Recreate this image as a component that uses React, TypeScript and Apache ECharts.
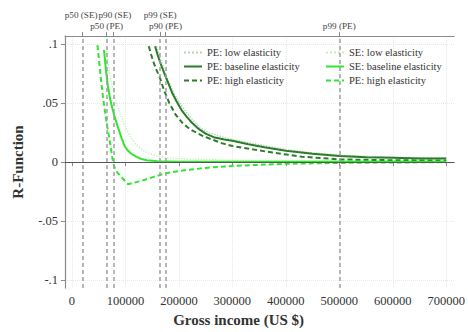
import React, { useEffect, useRef } from "react";
import * as echarts from "echarts";

// ---- data ----
const peLow: [number, number][] = [
  [158000, 0.098], [165000, 0.088], [172000, 0.079], [180000, 0.069], [190000, 0.059],
  [200000, 0.051], [212000, 0.043], [225000, 0.036], [240000, 0.029], [255000, 0.025],
  [275000, 0.022], [300000, 0.019], [340000, 0.0155], [400000, 0.0105], [450000, 0.0078],
  [500000, 0.0058], [600000, 0.004], [700000, 0.0033],
];
const peBase: [number, number][] = [
  [155500, 0.098], [160000, 0.091], [166000, 0.083], [172000, 0.076], [180000, 0.067],
  [188000, 0.058], [196000, 0.051], [205000, 0.044], [215000, 0.038], [225000, 0.033],
  [237000, 0.028], [250000, 0.024], [265000, 0.021], [285000, 0.019], [300000, 0.018],
  [330000, 0.015], [360000, 0.0125], [400000, 0.0095], [450000, 0.007], [500000, 0.005],
  [550000, 0.004], [600000, 0.0035], [650000, 0.003], [700000, 0.003],
];
const peHigh: [number, number][] = [
  [143700, 0.098], [148000, 0.091], [153000, 0.084], [158000, 0.078], [164000, 0.072],
  [172000, 0.061], [182000, 0.050], [194000, 0.040], [207000, 0.033], [220000, 0.028],
  [232000, 0.025], [245000, 0.022], [262000, 0.019], [280000, 0.016], [300000, 0.0135],
  [340000, 0.0105], [375000, 0.008], [430000, 0.0045], [500000, 0.0022], [600000, 0.0015],
  [700000, 0.0012],
];
const seLow: [number, number][] = [
  [64000, 0.097], [68000, 0.084], [72000, 0.072], [77000, 0.061], [83000, 0.050],
  [90000, 0.041], [97000, 0.033], [105000, 0.025], [113000, 0.019], [122000, 0.014],
  [132000, 0.010], [145000, 0.007], [160000, 0.005], [180000, 0.0035], [220000, 0.0025],
  [300000, 0.0015], [500000, 0.001], [700000, 0.001],
];
const seBase: [number, number][] = [
  [60000, 0.095], [63000, 0.080], [67000, 0.065], [72000, 0.052], [77000, 0.043],
  [82000, 0.035], [87000, 0.028], [93000, 0.020], [98000, 0.014], [104000, 0.010],
  [111000, 0.007], [120000, 0.0045], [130000, 0.0025], [140000, 0.0015], [160000, 0.0007],
  [200000, 0.0003], [300000, 0.0002], [500000, 0.0002], [700000, 0.0003],
];
const seHigh: [number, number][] = [
  [47700, 0.099], [50000, 0.089], [54000, 0.071], [58000, 0.055], [62000, 0.042],
  [66000, 0.030], [70000, 0.020], [73000, 0.011], [76000, 0.002], [79000, -0.004],
  [85000, -0.009], [95000, -0.014], [105000, -0.0188], [130000, -0.016], [150000, -0.013],
  [175000, -0.0095], [210000, -0.007], [250000, -0.005], [300000, -0.0033], [400000, -0.0015],
  [500000, -0.0008], [600000, -0.0004], [700000, -0.0002],
];

const xTicks = [0, 100000, 200000, 300000, 400000, 500000, 600000, 700000];
const yTicks = [-0.1, -0.05, 0, 0.05, 0.1];
const yTickLabels = ["-.1", "-.05", "0", ".05", ".1"];

// reference lines: percentiles (top row = SE, second row = PE)
const refNames = ["p50 (SE)", "p90 (SE)", "p99 (SE)", "p50 (PE)", "p90 (PE)", "p99 (PE)"];
const refValues = [20000, 77500, 165000, 65000, 175000, 500000];
const refRow = [0, 0, 0, 1, 1, 1];
const refShift = [-1.5, 1.5, 0, 0, 0, 0];

const seriesNames = [
  "PE: low elasticity", "PE: baseline elasticity", "PE: high elasticity",
  "SE: low elasticity", "SE: baseline elasticity", "SE: high elasticity",
];
const legendLabels: Record<string, string> = {
  "SE: high elasticity": "PE: high elasticity",
};

const FONT = "Liberation Serif";
const DARK = "#2b7d2b";
const BRIGHT = "#2ee62e";

export default function App() {
  const ref = useRef<HTMLDivElement>(null);
  useEffect(() => {
    if (!ref.current) return;
    const chart = echarts.init(ref.current, null, { renderer: "svg" });
    const line = (
      name: string, data: [number, number][], color: string, type: any, width: number, z: number
    ) => ({
      name, type: "line", data, symbol: "none", smooth: false, z,
      lineStyle: { color, type, width },
      itemStyle: { color },
    });
    const series: any[] = [
      line(seriesNames[0], peLow, "#b3d6b3", "dotted", 1.4, 3),
      line(seriesNames[1], peBase, DARK, "solid", 2, 4),
      line(seriesNames[2], peHigh, DARK, [5, 3], 2, 4),
      line(seriesNames[3], seLow, "#c0f3c0", "dotted", 1.4, 3),
      line(seriesNames[4], seBase, BRIGHT, "solid", 2, 4),
      line(seriesNames[5], seHigh, BRIGHT, [5, 3], 2, 4),
    ];
    // reference lines and zero line on an invisible helper series
    series.push({
      type: "line", data: [], silent: true, z: 2,
      markLine: {
        symbol: "none", silent: true, animation: false,
        data: [
          ...refValues.map((v, i) => ({
            xAxis: v,
            lineStyle: { color: "#a0a0a0", type: [4, 3], width: 1.5 },
            label: {
              show: true, position: "end", formatter: refNames[i],
              distance: refRow[i] === 0 ? 17 : 6,
              offset: [refShift[i], 0],
              fontFamily: FONT, fontSize: 9.2, color: "#444",
            },
          })),
          {
            yAxis: 0,
            lineStyle: { color: "#555", type: "solid", width: 1.2 },
            label: { show: false },
          },
        ],
      },
    });
    const legendText = { fontFamily: FONT, fontSize: 10.5, color: "#333" };
    const legendBase = {
      orient: "vertical", top: 47, padding: 0,
      itemWidth: 18, itemHeight: 10, itemGap: 3, selectedMode: false,
      itemStyle: { opacity: 0, borderWidth: 0 },
      textStyle: legendText,
      formatter: (n: string) => legendLabels[n] || n,
    };
    const legendData = (names: string[]) => names.map((n) => ({ name: n, textStyle: legendText }));
    chart.setOption({
      animation: false,
      textStyle: { fontFamily: FONT },
      grid: { left: 65, right: 11, top: 36, bottom: 43, containLabel: false },
      xAxis: [
        {
          type: "value", min: -13000, max: 715000,
          name: "Gross income (US $)", nameLocation: "middle", nameGap: 24,
          nameTextStyle: { fontFamily: FONT, fontSize: 15, fontWeight: "bold", color: "#333", padding: [0, 42, 0, 0] },
          axisLine: { show: true, lineStyle: { color: "#8a8a8a", width: 1.2 } },
          axisTick: { show: true, length: 4, customValues: xTicks, lineStyle: { color: "#8a8a8a" } },
          axisLabel: { customValues: xTicks, fontFamily: FONT, fontSize: 12.5, color: "#333", margin: 6, formatter: (v: number) => String(v) },
          splitLine: { show: true, lineStyle: { color: "#e8e8e8", type: "dotted" } },
        },
        {
          type: "value", position: "top", min: -13000, max: 715000,
          axisLine: { show: true, onZero: false, lineStyle: { color: "#8a8a8a", width: 1.2 } },
          axisTick: { show: true, length: 4, customValues: refValues, lineStyle: { color: "#8a8a8a" } },
          axisLabel: { show: false },
          splitLine: { show: false },
        },
      ],
      yAxis: {
        type: "value", min: -0.1067, max: 0.1067,
        name: "R-Function", nameLocation: "middle", nameGap: 40,
        nameTextStyle: { fontFamily: FONT, fontSize: 15, fontWeight: "bold", color: "#333" },
        axisLine: { show: true, onZero: false, lineStyle: { color: "#8a8a8a", width: 1.2 } },
        axisTick: { show: true, length: 4, customValues: yTicks, lineStyle: { color: "#8a8a8a" } },
        axisLabel: {
          customValues: yTicks, fontFamily: FONT, fontSize: 12.5, color: "#333", margin: 7,
          formatter: (v: number) => {
            const i = yTicks.findIndex((t) => Math.abs(t - v) < 1e-9);
            return i >= 0 ? yTickLabels[i] : "";
          },
        },
        splitLine: { show: true, lineStyle: { color: "#e8e8e8", type: "dotted" } },
      },
      legend: [
        { ...legendBase, data: legendData(seriesNames.slice(0, 3)), left: 183 },
        { ...legendBase, data: legendData(seriesNames.slice(3)), left: 325 },
      ],
      series,
    });
    return () => chart.dispose();
  }, []);
  return (
    <div
      ref={ref}
      style={{ position: "fixed", left: 0, top: 0, width: 468, height: 332, background: "#fff" }}
    />
  );
}
